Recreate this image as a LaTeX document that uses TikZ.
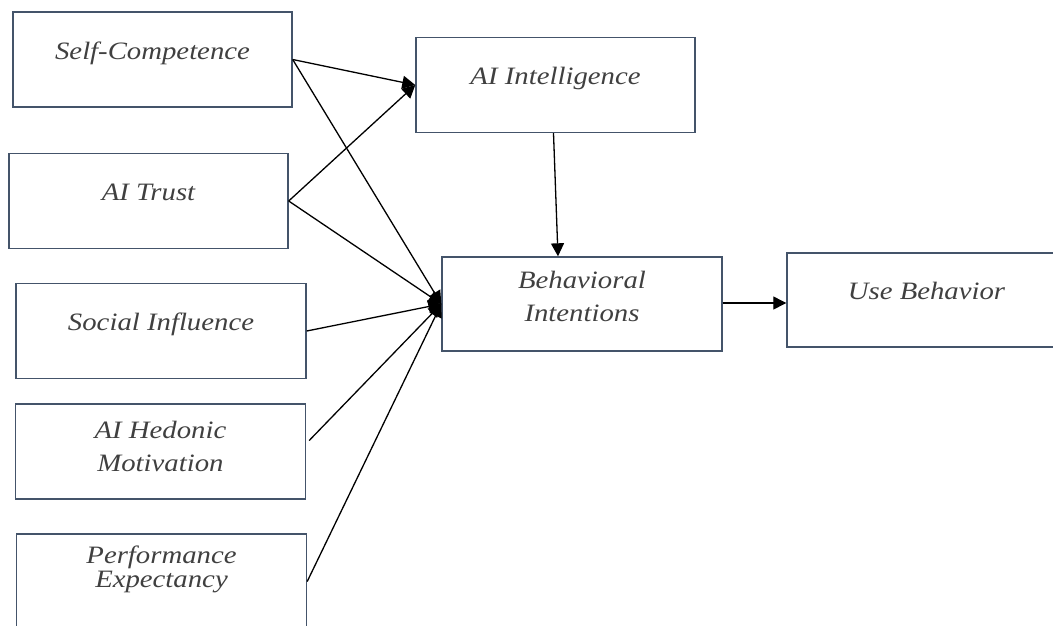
\documentclass[tikz,border=0pt]{standalone}
\usepackage{fontspec}
\setmainfont{Liberation Serif}[FakeStretch=1.15]
\usepackage{tikz}
\usetikzlibrary{positioning,arrows.meta}

\definecolor{boxline}{HTML}{44546A}
\definecolor{txtgray}{HTML}{404040}

\begin{document}
\begin{tikzpicture}[x=1pt, y=-1pt, >={Triangle[length=13pt,width=13pt]}]

    %
    % Styles for constructs, and paths
    %
    \tikzstyle{construct} = [draw=boxline, line width=1.4pt, rectangle, inner sep=0pt, align=center,
                             minimum width=279pt, minimum height=95pt,
                             font={\fontsize{25}{33}\selectfont\itshape}, text=txtgray,
                             text height=18pt, text depth=19pt]
    \tikzstyle{twoline} = [text height=51pt]
    \tikzstyle{wide} = [minimum width=290pt]
    \tikzstyle{path} = [black, line width=1.3pt, ->];

    \clip (0,0) rectangle (1053,625);
    \useasboundingbox (0,0) rectangle (1053,625);

    %
    % Position constructs
    %
    \node[construct, name=selfcomp] at (152.5,59.5) {Self-Competence};
    \node[construct, name=trust] at (148.5,201) {AI Trust};
    \node[construct, wide, name=social] at (161,331) {Social Influence};
    \node[construct, wide, twoline, name=hedonic, text depth=11pt] at (160.5,451.5) {AI Hedonic\\Motivation};
    \node[construct, wide, name=perform, text height=42pt, text depth=30pt,
          font={\fontsize{25}{24}\selectfont\itshape}] at (161.5,581.5) {Performance\\Expectancy};
    \node[construct, name=intel] at (555.5,85) {AI Intelligence};
    \node[construct, twoline, name=intent, text depth=17pt, minimum width=280pt, minimum height=94pt] at (582,304) {Behavioral\\Intentions};
    \node[construct, name=usebeh, minimum height=94pt] at (926.5,300) {Use Behavior};

    %
    % Connect constructs via paths
    %
    \draw (selfcomp.east) edge[path] (intel.west);
    \draw (trust.east) edge[path] (intel.west);

    \draw (selfcomp.east) edge[path] (intent.west);
    \draw (trust.east) edge[path] (intent.west);
    \draw (social.east) edge[path] (intent.west);
    \draw ([xshift=3pt,yshift=11pt]hedonic.east) edge[path] (intent.west);
    \draw (perform.east) edge[path] (intent.west);

    \draw ([xshift=-2pt]intel.south) edge[path] ([xshift=-24pt]intent.north);
    \draw ([yshift=1pt]intent.east) edge[path] ([yshift=-3pt]usebeh.west);
  \end{tikzpicture}
\end{document}
